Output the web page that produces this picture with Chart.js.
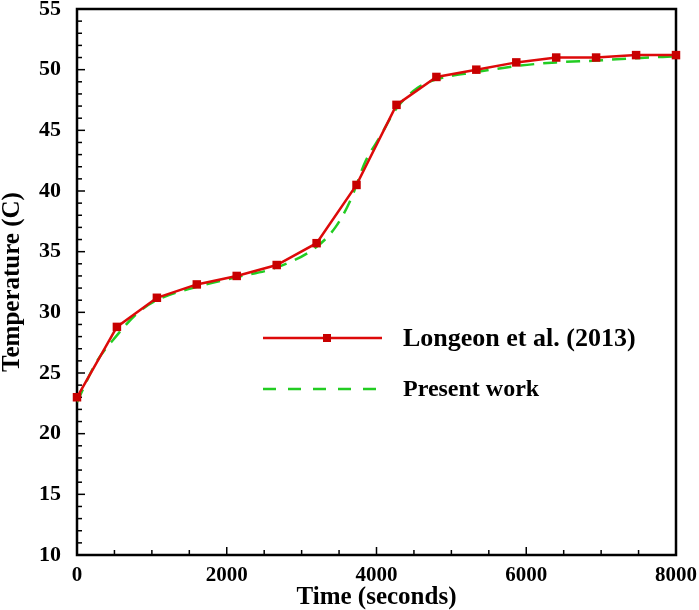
<!DOCTYPE html>
<html>
<head>
<meta charset="utf-8">
<script src="https://cdn.jsdelivr.net/npm/chart.js@4.4.1/dist/chart.umd.min.js"></script>
<style>
  html, body { margin: 0; padding: 0; background: #fff; }
  #wrap { width: 699px; height: 610px; }
</style>
</head>
<body>
<div id="wrap"><canvas id="tempChart" width="699" height="610"></canvas></div>
<script>
// Values
const longeonTime = [0, 533, 1067, 1600, 2133, 2667, 3200, 3733, 4267, 4800, 5333, 5867, 6400, 6933, 7467, 8000];
const longeonTemp = [23.0, 28.8, 31.2, 32.3, 33.0, 33.9, 35.7, 40.5, 47.1, 49.4, 50.0, 50.6, 51.0, 51.0, 51.2, 51.2];

const presentTime = [0, 250, 533, 800, 1067, 1600, 2133, 2667, 3200, 3450, 3650, 3850, 4050, 4267, 4550, 4800, 5333, 5867, 6400, 6933, 7467, 8000];
const presentTemp = [22.6, 25.8, 28.1, 29.9, 31.0, 32.1, 32.9, 33.7, 35.4, 37.0, 39.2, 42.4, 44.5, 46.8, 48.5, 49.2, 49.8, 50.3, 50.6, 50.75, 50.95, 51.1];

const xTickValues = [0, 2000, 4000, 6000, 8000];
const yTickValues = [10, 15, 20, 25, 30, 35, 40, 45, 50, 55];

const seriesNames = ['Longeon et al. (2013)', 'Present work'];

const RED = '#dd0a0a';
const RED_MARK = '#c80000';
const GREEN = '#22cc22';
const SERIF = "'Liberation Serif', 'Times New Roman', serif";

function toPoints(xs, ys) {
    return xs.map((x, i) => ({ x: x, y: ys[i] }));
}

// Frame box plus inward major/minor ticks
const framePlugin = {
    id: 'frame',
    beforeDatasetsDraw(chart) {
        const { ctx, chartArea: a, scales } = chart;
        ctx.save();
        ctx.strokeStyle = '#000';
        ctx.lineWidth = 1.5;
        // y ticks
        for (let v = scales.y.min; v <= scales.y.max + 1e-9; v += 1) {
            const py = scales.y.getPixelForValue(v);
            const len = (v % 5 === 0) ? 8 : 5;
            ctx.beginPath();
            ctx.moveTo(a.left, py);
            ctx.lineTo(a.left + len, py);
            ctx.stroke();
        }
        // x ticks
        for (let v = scales.x.min; v <= scales.x.max + 1e-9; v += 500) {
            const px = scales.x.getPixelForValue(v);
            const len = (v % 2000 === 0) ? 8 : 5;
            ctx.beginPath();
            ctx.moveTo(px, a.bottom);
            ctx.lineTo(px, a.bottom - len);
            ctx.stroke();
        }
        ctx.lineWidth = 2.5;
        ctx.strokeRect(a.left, a.top, a.right - a.left, a.bottom - a.top);
        ctx.restore();
    }
};

// Legend drawn inside the plot, like the original figure
const insideLegend = {
    id: 'insideLegend',
    afterDraw(chart) {
        const ctx = chart.ctx;
        const x0 = 263, x1 = 382, tx = 403;
        ctx.save();
        // red solid with marker
        ctx.strokeStyle = RED;
        ctx.lineWidth = 2.5;
        ctx.beginPath();
        ctx.moveTo(x0, 338);
        ctx.lineTo(x1, 338);
        ctx.stroke();
        ctx.fillStyle = RED_MARK;
        ctx.fillRect(323, 334, 8, 8);
        // green dashed
        ctx.strokeStyle = GREEN;
        ctx.setLineDash([13, 12]);
        ctx.beginPath();
        ctx.moveTo(x0, 389);
        ctx.lineTo(x1, 389);
        ctx.stroke();
        ctx.setLineDash([]);
        ctx.fillStyle = '#000';
        ctx.textBaseline = 'alphabetic';
        ctx.font = 'bold 26px ' + SERIF;
        ctx.fillText(seriesNames[0], tx, 346);
        ctx.font = 'bold 24px ' + SERIF;
        ctx.fillText(seriesNames[1], tx, 396);
        ctx.restore();
    }
};

const ctx = document.getElementById('tempChart').getContext('2d');
new Chart(ctx, {
    type: 'line',
    data: {
        datasets: [{
            label: seriesNames[0],
            data: toPoints(longeonTime, longeonTemp),
            borderColor: RED,
            borderWidth: 2.5,
            backgroundColor: RED_MARK,
            pointStyle: 'rect',
            pointRadius: 6,
            pointBorderWidth: 0,
            tension: 0,
            clip: false,
            order: 0
        }, {
            label: seriesNames[1],
            data: toPoints(presentTime, presentTemp),
            borderColor: GREEN,
            borderWidth: 2.5,
            borderDash: [14, 9],
            pointRadius: 0,
            cubicInterpolationMode: 'monotone',
            order: 1
        }]
    },
    options: {
        responsive: false,
        animation: false,
        layout: { padding: { top: 9, right: 23, left: 0, bottom: 0 } },
        plugins: {
            legend: { display: false },
            tooltip: { enabled: false }
        },
        scales: {
            x: {
                type: 'linear',
                min: 0,
                max: 8000,
                afterFit: s => {
                    s.height = 55;
                    s.paddingLeft = 0;
                    s.paddingRight = 0;
                },
                afterBuildTicks: s => { s.ticks = xTickValues.map(v => ({ value: v })); },
                grid: { display: false },
                border: { display: false },
                ticks: {
                    padding: 2,
                    color: '#000',
                    font: { family: SERIF, size: 21, weight: 'bold', lineHeight: 1 },
                    maxRotation: 0,
                    callback: v => String(v)
                },
                title: {
                    display: true,
                    text: 'Time (seconds)',
                    color: '#000',
                    font: { family: SERIF, size: 25, weight: 'bold', lineHeight: 1 },
                    padding: { top: 0, bottom: 0 }
                }
            },
            y: {
                min: 10,
                max: 55,
                afterFit: s => {
                    s.width = 77;
                    s.paddingTop = 0;
                    s.paddingBottom = 0;
                },
                afterBuildTicks: s => { s.ticks = yTickValues.map(v => ({ value: v })); },
                grid: { display: false },
                border: { display: false },
                ticks: {
                    padding: 8,
                    color: '#000',
                    font: { family: SERIF, size: 22, weight: 'bold' }
                },
                title: {
                    display: true,
                    text: 'Temperature (C)',
                    color: '#000',
                    font: { family: SERIF, size: 25, weight: 'bold', lineHeight: 1 },
                    padding: { top: 0, bottom: 0 }
                }
            }
        }
    },
    plugins: [framePlugin, insideLegend]
});
</script>
</body>
</html>
